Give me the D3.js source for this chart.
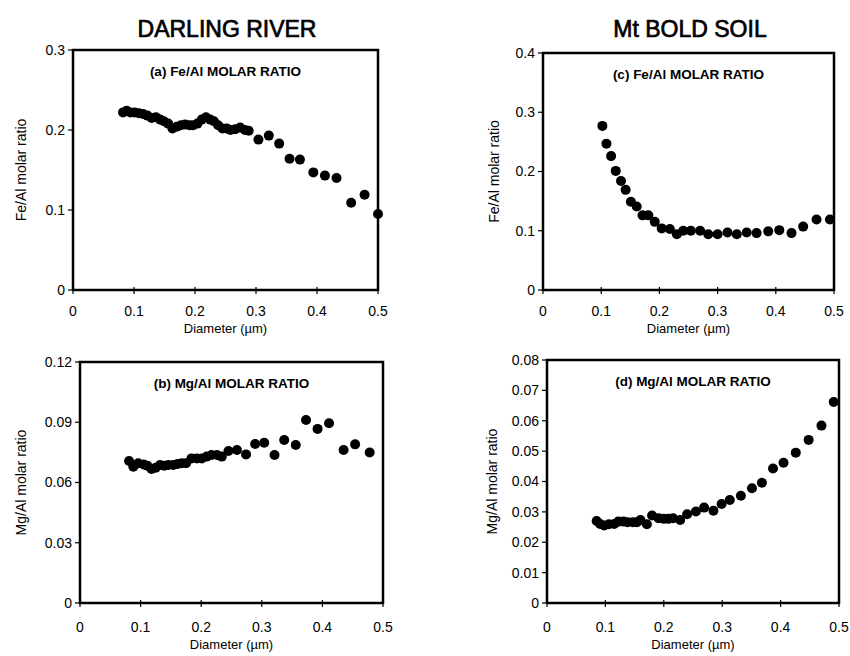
<!DOCTYPE html>
<html>
<head>
<meta charset="utf-8">
<script src="https://cdn.jsdelivr.net/npm/d3@7"></script>
<style>
  body { margin: 0; background: #fff; }
  svg text { font-family: "Liberation Sans", Arial, sans-serif; fill: #000; }
</style>
</head>
<body>
<div id="chart"></div>
<script>
// data
const xTicks = [0, 0.1, 0.2, 0.3, 0.4, 0.5];

// (a) Darling River Fe/Al
const aDiam = [0.082, 0.088, 0.094, 0.101, 0.108, 0.115, 0.122, 0.129, 0.136, 0.143, 0.149, 0.156, 0.163, 0.170, 0.177, 0.184, 0.191, 0.197, 0.204, 0.211, 0.218, 0.225, 0.231, 0.238, 0.245, 0.252, 0.258, 0.266, 0.274, 0.282, 0.288, 0.304, 0.321, 0.338, 0.355, 0.372, 0.394, 0.413, 0.432, 0.456, 0.478, 0.500];
const aRatio = [0.222, 0.224, 0.222, 0.222, 0.221, 0.220, 0.218, 0.215, 0.216, 0.213, 0.211, 0.208, 0.202, 0.204, 0.206, 0.207, 0.206, 0.206, 0.208, 0.213, 0.216, 0.213, 0.211, 0.206, 0.202, 0.202, 0.200, 0.201, 0.203, 0.200, 0.199, 0.188, 0.193, 0.183, 0.164, 0.163, 0.147, 0.143, 0.140, 0.109, 0.119, 0.095];
const aTicks = [0, 0.1, 0.2, 0.3];

// (b) Darling River Mg/Al
const bDiam = [0.081, 0.088, 0.096, 0.105, 0.111, 0.118, 0.125, 0.132, 0.139, 0.146, 0.154, 0.161, 0.168, 0.175, 0.184, 0.193, 0.201, 0.209, 0.217, 0.226, 0.234, 0.245, 0.259, 0.274, 0.289, 0.304, 0.321, 0.337, 0.356, 0.373, 0.392, 0.411, 0.435, 0.454, 0.478];
const bRatio = [0.0707, 0.0679, 0.0696, 0.0690, 0.0684, 0.0667, 0.0674, 0.0687, 0.0684, 0.0687, 0.0687, 0.0692, 0.0696, 0.0696, 0.0720, 0.0720, 0.0720, 0.0729, 0.0737, 0.0737, 0.0729, 0.0757, 0.0762, 0.0740, 0.0792, 0.0798, 0.0737, 0.0812, 0.0787, 0.0911, 0.0867, 0.0895, 0.0762, 0.0790, 0.0749];
const bTicks = [0, 0.03, 0.06, 0.09, 0.12];

// (c) Mt Bold soil Fe/Al
const cDiam = [0.102, 0.109, 0.117, 0.125, 0.134, 0.142, 0.151, 0.161, 0.171, 0.181, 0.192, 0.204, 0.218, 0.230, 0.241, 0.254, 0.270, 0.284, 0.300, 0.317, 0.333, 0.350, 0.367, 0.387, 0.406, 0.427, 0.447, 0.470, 0.493];
const cRatio = [0.277, 0.247, 0.226, 0.201, 0.184, 0.169, 0.149, 0.141, 0.126, 0.126, 0.115, 0.104, 0.103, 0.094, 0.100, 0.100, 0.100, 0.094, 0.094, 0.097, 0.094, 0.097, 0.096, 0.099, 0.101, 0.096, 0.107, 0.119, 0.119];
const cTicks = [0, 0.1, 0.2, 0.3, 0.4];

// (d) Mt Bold soil Mg/Al
const dDiam = [0.085, 0.091, 0.098, 0.106, 0.115, 0.122, 0.131, 0.138, 0.147, 0.154, 0.160, 0.171, 0.180, 0.191, 0.200, 0.208, 0.216, 0.228, 0.240, 0.255, 0.269, 0.285, 0.299, 0.313, 0.332, 0.351, 0.368, 0.387, 0.405, 0.426, 0.448, 0.470, 0.491];
const dRatio = [0.0270, 0.0260, 0.0255, 0.0259, 0.0260, 0.0268, 0.0268, 0.0266, 0.0266, 0.0266, 0.0273, 0.0259, 0.0288, 0.0279, 0.0277, 0.0277, 0.0279, 0.0273, 0.0292, 0.0301, 0.0314, 0.0304, 0.0326, 0.0339, 0.0353, 0.0378, 0.0396, 0.0443, 0.0462, 0.0495, 0.0537, 0.0584, 0.0662];
const dTicks = [0, 0.01, 0.02, 0.03, 0.04, 0.05, 0.06, 0.07, 0.08];

const width = 850;
const height = 656;

const svg = d3.select('#chart')
  .append('svg')
  .attr('width', width)
  .attr('height', height);

// column headings (scanned type is heavy, thicken with a thin stroke)
svg.append('text')
  .attr('x', 227).attr('y', 37)
  .attr('text-anchor', 'middle')
  .style('font-size', '23px')
  .style('stroke', '#000').style('stroke-width', 0.7)
  .text('DARLING RIVER');

svg.append('text')
  .attr('x', 690).attr('y', 37)
  .attr('text-anchor', 'middle')
  .style('font-size', '23px')
  .style('stroke', '#000').style('stroke-width', 0.7)
  .text('Mt BOLD SOIL');

function drawPanel(p) {
  const x = d3.scaleLinear().domain([0, 0.5]).range([p.left, p.right]);
  const y = d3.scaleLinear().domain([0, p.yMax]).range([p.bottom, p.top]);

  const g = svg.append('g');

  // y ticks and labels
  g.selectAll('.ytick')
    .data(p.yTicks)
    .enter().append('line')
    .attr('x1', p.left - 5).attr('x2', p.left)
    .attr('y1', d => y(d)).attr('y2', d => y(d))
    .style('stroke', '#000').style('stroke-width', 1.2);

  g.selectAll('.ylab')
    .data(p.yTicks)
    .enter().append('text')
    .attr('x', p.left - 8)
    .attr('y', d => y(d))
    .attr('dy', '0.35em')
    .attr('text-anchor', 'end')
    .style('font-size', '14px')
    .text(d => d === 0 ? '0' : d3.format(p.yFmt)(d));

  // x ticks and labels
  g.selectAll('.xtick')
    .data(xTicks)
    .enter().append('line')
    .attr('x1', d => x(d)).attr('x2', d => x(d))
    .attr('y1', p.bottom - 3).attr('y2', p.bottom + 4)
    .style('stroke', '#000').style('stroke-width', 1.2);

  g.selectAll('.xlab')
    .data(xTicks)
    .enter().append('text')
    .attr('x', d => x(d))
    .attr('y', p.bottom + p.tickGap)
    .attr('text-anchor', 'middle')
    .style('font-size', '14px')
    .text(d => d === 0 ? '0' : d3.format('.1f')(d));

  // frame
  g.append('rect')
    .attr('x', p.left).attr('y', p.top)
    .attr('width', p.right - p.left)
    .attr('height', p.bottom - p.top)
    .style('fill', 'none')
    .style('stroke', '#000')
    .style('stroke-width', 2.5);

  // axis titles
  g.append('text')
    .attr('x', (p.left + p.right) / 2)
    .attr('y', p.bottom + p.tickGap + 17)
    .attr('text-anchor', 'middle')
    .style('font-size', '13px')
    .text('Diameter (\u00b5m)');

  g.append('text')
    .attr('transform', `translate(${p.yTitleX},${(p.top + p.bottom) / 2}) rotate(-90)`)
    .attr('text-anchor', 'middle')
    .style('font-size', '14px')
    .text(p.yTitle);

  // panel caption
  g.append('text')
    .attr('x', (p.left + p.right) / 2)
    .attr('y', p.top + 26)
    .attr('text-anchor', 'middle')
    .style('font-size', '13.5px')
    .style('font-weight', 'bold')
    .text(p.caption);

  // points
  g.selectAll('.pt')
    .data(p.xs)
    .enter().append('circle')
    .attr('cx', d => x(d))
    .attr('cy', (d, i) => y(p.ys[i]))
    .attr('r', 5)
    .style('fill', '#000');
}

drawPanel({ left: 73, right: 378, top: 50, bottom: 290, yMax: 0.3, yTicks: aTicks, yFmt: '.1f', tickGap: 26,
  xs: aDiam, ys: aRatio, caption: '(a) Fe/Al MOLAR RATIO', yTitle: 'Fe/Al molar ratio', yTitleX: 26 });
drawPanel({ left: 80, right: 383, top: 362, bottom: 603, yMax: 0.12, yTicks: bTicks, yFmt: '.2f', tickGap: 29,
  xs: bDiam, ys: bRatio, caption: '(b) Mg/Al MOLAR RATIO', yTitle: 'Mg/Al molar ratio', yTitleX: 26 });
drawPanel({ left: 543, right: 834, top: 53, bottom: 290, yMax: 0.4, yTicks: cTicks, yFmt: '.1f', tickGap: 26,
  xs: cDiam, ys: cRatio, caption: '(c) Fe/Al MOLAR RATIO', yTitle: 'Fe/Al molar ratio', yTitleX: 499 });
drawPanel({ left: 547, right: 839, top: 360, bottom: 603, yMax: 0.08, yTicks: dTicks, yFmt: '.2f', tickGap: 29,
  xs: dDiam, ys: dRatio, caption: '(d) Mg/Al MOLAR RATIO', yTitle: 'Mg/Al molar ratio', yTitleX: 497 });
</script>
</body>
</html>
